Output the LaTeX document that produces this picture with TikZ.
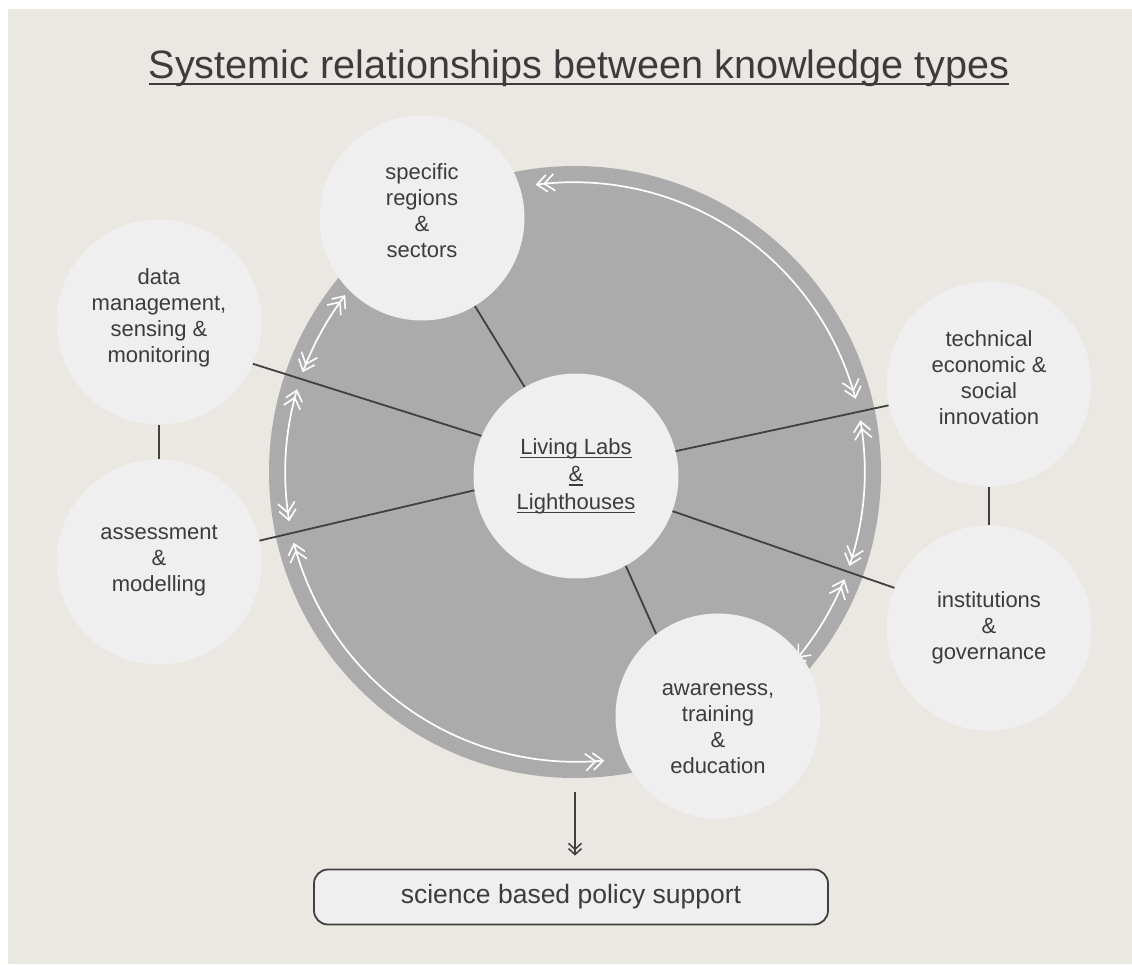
\documentclass[tikz,border=0pt]{standalone}
\usepackage{fontspec}
\setmainfont{Liberation Sans}
\usetikzlibrary{arrows.meta}
\definecolor{bgc}{HTML}{EBE8E3}
\definecolor{ringc}{HTML}{ABABAB}
\definecolor{discc}{HTML}{EFEFEF}
\definecolor{ink}{HTML}{3C3C3C}
\definecolor{linec}{HTML}{404040}
\newcommand\myul[3]{\setbox0=\hbox{#3}\rlap{\color{ink}\vrule width\wd0 height #1 depth #2}\box0}
\begin{document}
\begin{tikzpicture}[x=1pt,y=-1pt,
  disc/.style={circle, fill=discc, minimum size=205, inner sep=0pt},
  ctext/.style={text=ink, align=center, inner sep=0pt, font=\fontsize{22}{26}\selectfont},
  wharc/.style={white, line width=1.7pt, >={Straight Barb[length=10pt,width=17pt,sep=-4.5pt,line width=1.6pt]}, <<->>},
  link/.style={draw=linec, line width=1.8pt}
]
\useasboundingbox (0,0) rectangle (1132,964);
\fill[white] (0,0) rectangle (1132,964);
\fill[bgc] (8,9) rectangle (1132,964);

\node[anchor=base, text=ink, font=\fontsize{39.6}{44}\selectfont] (title) at (579,78) {\myul{-4.5pt}{6.5pt}{Systemic relationships between knowledge types}};

\node[circle, fill=ringc, minimum size=612, inner sep=0pt] (ring) at (575,472) {};

% arc end points
\path (ring.center) ++(-96.9:290) coordinate (a1s);
\path (ring.center) ++(-9.4:290) coordinate (a2s);
\path (ring.center) ++(22.6:290) coordinate (a3s);
\path (ring.center) ++(-195:290) coordinate (a4s);
\path (ring.center) ++(-164.3:290) coordinate (a5s);
\path (ring.center) ++(-143.3:290) coordinate (a6s);

\draw[wharc] (a1s) arc[start angle=-96.9, end angle=-15.5, radius=290];
\draw[wharc] (a2s) arc[start angle=-9.4, end angle=18, radius=290];
\draw[wharc] (a3s) arc[start angle=22.6, end angle=40.5, radius=290];
\draw[wharc] (a4s) arc[start angle=-195, end angle=-274.9, radius=290];
\draw[wharc] (a5s) arc[start angle=-164.3, end angle=-188.9, radius=290];
\draw[wharc] (a6s) arc[start angle=-143.3, end angle=-159, radius=290];

\node[disc, text=ink, align=center, font=\fontsize{22}{27.5}\selectfont] (ll) at (576,476) {\myul{-2.5pt}{4pt}{Living Labs}\\\myul{-2.5pt}{4pt}{\&}\\\myul{-2.5pt}{4pt}{Lighthouses}};
\node[disc] (sr) at (422,218) {};
\node[disc] (dm) at (159,322) {};
\node[disc] (as) at (159,562) {};
\node[disc] (te) at (989,384) {};
\node[disc] (in) at (989,628) {};
\node[disc] (aw) at (718,716) {};

\node[ctext] (srt) at (422,211) {specific\\regions\\\&\\sectors};
\node[ctext] (dmt) at (159,318) {data\\management,\\sensing \&\\monitoring};
\node[ctext] (ast) at (159,561) {assessment\\\&\\modelling};
\node[ctext] (tet) at (989,378) {technical\\economic \&\\social\\innovation};
\node[ctext] (int) at (989,628) {institutions\\\&\\governance};
\node[ctext] (awt) at (718,729) {awareness,\\training\\\&\\education};

\draw[link] (sr.-59) -- (ll.120);
\draw[link] (dm.-24) -- (ll.157);
\draw[link] (as.12) -- (ll.188);
\draw[link] (te.192) -- (ll.14);
\draw[link] (in.157) -- (ll.-20);
\draw[link] (aw.127) -- (ll.-61);
\draw[link] (dm) -- (as);
\draw[link] (te) -- (in);

\node[draw=linec, fill=discc, rounded corners=14pt, line width=1.8pt, minimum width=514, minimum height=55, inner sep=0pt, text=ink, font=\fontsize{26.5}{30}\selectfont] (policy) at (571,897) {science based policy support};

\draw[linec, line width=1.7pt, -{Straight Barb[length=6pt,width=13pt,sep=-2.5pt,line width=1.5pt]Straight Barb[length=6pt,width=13pt,line width=1.5pt]}] ([yshift=-14pt]ring.south) -- ([yshift=13pt]ring.south |- policy.north);
\end{tikzpicture}
\end{document}
